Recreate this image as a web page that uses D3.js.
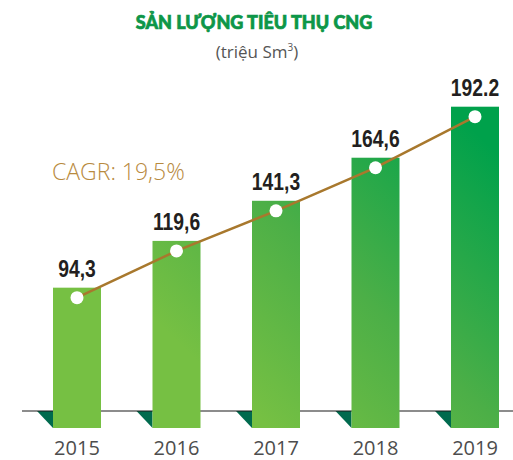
<!DOCTYPE html>
<html><head><meta charset="utf-8">
<script src="https://cdn.jsdelivr.net/npm/d3@7"></script>
<style>
html,body{margin:0;padding:0;background:#fff;}
svg{display:block;}
</style>
</head><body>
<svg id="chart" width="513" height="460"></svg>
<script>
const years = ["2015", "2016", "2017", "2018", "2019"];
const values = [94.3, 119.6, 141.3, 164.6, 192.2];
const valueLabels = ["94,3", "119,6", "141,3", "164,6", "192.2"];
const titleText = "SẢN LƯỢNG TIÊU THỤ CNG";
const unitText = "(triệu Sm";
const cagrText = "CAGR: 19,5%";

const svg = d3.select("#chart");
const baseY = 411, barBottom = 428;

const x = d3.scaleBand().domain(years).range([53, 499]).paddingInner(0.5176);
const y = d3.scaleLinear().domain([0, 192.2]).range([462, 106.7]);

const defs = svg.append("defs");
const grad = defs.append("linearGradient").attr("id", "barGrad")
  .attr("gradientUnits", "userSpaceOnUse")
  .attr("x1", 260).attr("y1", 420).attr("x2", 505).attr("y2", 160);
grad.append("stop").attr("offset", 0).attr("stop-color", "#76c043");
grad.append("stop").attr("offset", 0.45).attr("stop-color", "#4caf47");
grad.append("stop").attr("offset", 1).attr("stop-color", "#00a14b");

// title
svg.append("text").attr("x", 254).attr("y", 29).attr("text-anchor", "middle")
  .attr("font-family", "Lato, 'Noto Sans', sans-serif").attr("font-weight", 900)
  .attr("font-size", 18).attr("fill", "#0d9648")
  .attr("stroke", "#0d9648").attr("stroke-width", 0.7).text(titleText);
const sub = svg.append("text").attr("x", 257).attr("y", 58).attr("text-anchor", "middle")
  .attr("font-family", "'Open Sans', sans-serif").attr("font-size", 17).attr("fill", "#555");
sub.append("tspan").text(unitText);
sub.append("tspan").attr("font-size", 10).attr("dy", -7).text("3");
sub.append("tspan").attr("dy", 7).text(")");

// triangles
svg.selectAll("path.tri").data(years).join("path").attr("class", "tri")
  .attr("d", d => { const bx = x(d); return `M${bx-16},${baseY}L${bx},${baseY}L${bx},${barBottom}Z`; })
  .attr("fill", "#006a4e");

// axis line
svg.append("line").attr("x1", 22).attr("x2", 513).attr("y1", baseY).attr("y2", baseY)
  .attr("stroke", "#1a1a1a").attr("stroke-width", 1.2);

// bars
svg.selectAll("rect.bar").data(values).join("rect").attr("class", "bar")
  .attr("x", (d, i) => x(years[i])).attr("y", d => y(d))
  .attr("width", x.bandwidth()).attr("height", d => barBottom - y(d))
  .attr("fill", "url(#barGrad)");

// value labels (condensed bold)
svg.selectAll("text.val").data(values).join("text").attr("class", "val")
  .attr("transform", (d, i) => `translate(${x(years[i]) + x.bandwidth() / 2},${y(d) - 10.5}) scale(0.84,1)`)
  .attr("text-anchor", "middle")
  .attr("font-family", "'Liberation Sans', Arial, sans-serif")
  .attr("font-weight", "bold")
  .attr("font-size", 23).attr("fill", "#231f20")
  .text((d, i) => valueLabels[i]);

// year labels
svg.selectAll("text.year").data(years).join("text").attr("class", "year")
  .attr("x", d => x(d) + x.bandwidth() / 2).attr("y", 455)
  .attr("text-anchor", "middle").attr("font-family", "'Open Sans', sans-serif")
  .attr("font-size", 20).attr("fill", "#4d4d4d").text(d => d);

// CAGR line and dots
const pts = values.map((v, i) => [x(years[i]) + x.bandwidth() / 2, y(v) + 10]);
svg.append("path").attr("d", d3.line()(pts)).attr("fill", "none")
  .attr("stroke", "#a8782d").attr("stroke-width", 2.5);
svg.selectAll("circle.dot").data(pts).join("circle").attr("class", "dot")
  .attr("cx", d => d[0]).attr("cy", d => d[1]).attr("r", 6.5).attr("fill", "#fff");

svg.append("text").attr("x", 52).attr("y", 180)
  .attr("font-family", "'Open Sans', sans-serif").attr("font-weight", 300)
  .attr("font-size", 23).attr("fill", "#b88a3e").text(cagrText);
</script>
</body></html>
